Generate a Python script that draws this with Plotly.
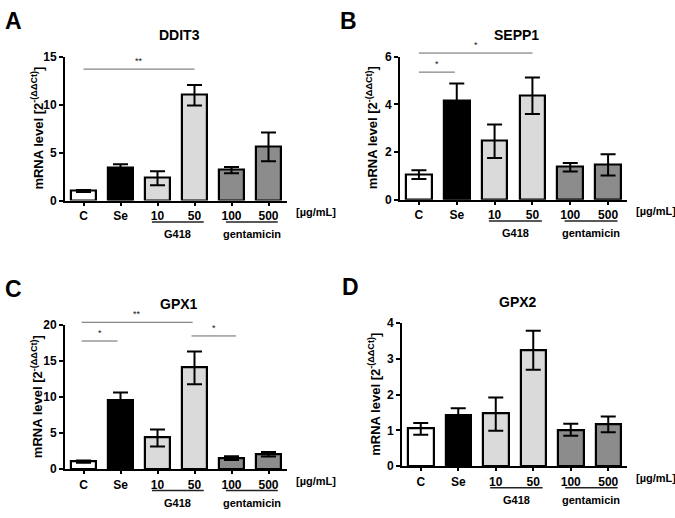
import plotly.graph_objects as go

W, H = 675, 518
FONT = "Arial, Liberation Sans, Helvetica, sans-serif"

categories = ["C", "Se", "10", "50", "100", "500"]
bar_colors = ["#ffffff", "#000000", "#dadada", "#dadada", "#8c8c8c", "#8c8c8c"]
groups = ["G418", "gentamicin"]
group_members = [[2, 3], [4, 5]]
unit_label = "[µg/mL]"
ytitle = "mRNA level [2<sup>-(ΔΔCt)</sup>]"

# Panel A - DDIT3
ddit3_mean = [1.0, 3.45, 2.35, 11.0, 3.2, 5.6]
ddit3_plus = [0.1, 0.35, 0.7, 1.05, 0.3, 1.5]
ddit3_minus = [0.1, 0.35, 0.75, 1.1, 0.35, 1.5]
ddit3_sig = [(0, 3, 13.7, "**")]

# Panel B - SEPP1
sepp1_mean = [1.05, 4.15, 2.47, 4.37, 1.37, 1.46]
sepp1_plus = [0.18, 0.72, 0.68, 0.75, 0.17, 0.44]
sepp1_minus = [0.18, 0.72, 0.72, 0.78, 0.19, 0.45]
sepp1_sig = [(0, 3, 6.15, "*"), (0, 0.95, 5.35, "*")]

# Panel C - GPX1
gpx1_mean = [1.05, 9.55, 4.4, 14.15, 1.53, 2.07]
gpx1_plus = [0.15, 1.1, 1.1, 2.2, 0.25, 0.32]
gpx1_minus = [0.15, 1.1, 1.25, 2.35, 0.27, 0.32]
gpx1_sig = [(-0.05, 2.95, 20.4, "**"), (-0.05, 0.92, 17.8, "*"), (2.92, 4.12, 18.5, "*")]

# Panel D - GPX2
gpx2_mean = [1.05, 1.42, 1.47, 3.25, 1.02, 1.17]
gpx2_plus = [0.16, 0.2, 0.45, 0.54, 0.17, 0.22]
gpx2_minus = [0.17, 0.2, 0.48, 0.55, 0.17, 0.22]
gpx2_sig = []

panels = [
    dict(letter="A", title="DDIT3", mean=ddit3_mean, plus=ddit3_plus, minus=ddit3_minus,
         ymax=15, dtick=5, sig=ddit3_sig, box=(65, 287, 51, 199)),
    dict(letter="B", title="SEPP1", mean=sepp1_mean, plus=sepp1_plus, minus=sepp1_minus,
         ymax=6, dtick=2, sig=sepp1_sig, box=(400, 627, 51, 198)),
    dict(letter="C", title="GPX1", mean=gpx1_mean, plus=gpx1_plus, minus=gpx1_minus,
         ymax=20, dtick=5, sig=gpx1_sig, box=(65, 287, 327, 475)),
    dict(letter="D", title="GPX2", mean=gpx2_mean, plus=gpx2_plus, minus=gpx2_minus,
         ymax=4, dtick=1, sig=gpx2_sig, box=(402, 627, 325, 472)),
]

fig = go.Figure()
shapes = []
annotations = []
layout_axes = {}


def px_x(p):
    return p / W


def px_y(p):
    return 1 - p / H


xs = list(range(len(categories)))

for i, p in enumerate(panels):
    n = "" if i == 0 else str(i + 1)
    xa, ya = "x" + n, "y" + n
    x0, x1, y0, y1 = p["box"]
    ph = y1 - y0
    fig.add_trace(go.Bar(
        x=xs, y=p["mean"], width=0.68, xaxis=xa, yaxis=ya,
        marker=dict(color=bar_colors, line=dict(color="black", width=2.2)),
        error_y=dict(type="data", symmetric=False, array=p["plus"], arrayminus=p["minus"],
                     color="black", thickness=2, width=7.5),
        showlegend=False, hoverinfo="skip",
    ))
    layout_axes["xaxis" + n] = dict(
        domain=[px_x(x0), px_x(x1)], range=[-0.5, 5.5], anchor=ya,
        tickvals=xs, ticktext=categories, showline=True, linecolor="black", linewidth=2,
        ticks="outside", ticklen=3, tickwidth=1.5, tickcolor="black", showgrid=False,
        zeroline=False, tickfont=dict(family=FONT, size=12, color="black", weight="bold"),
        fixedrange=True,
    )
    layout_axes["yaxis" + n] = dict(
        domain=[px_y(y1), px_y(y0)], range=[0, p["ymax"]], anchor=xa, dtick=p["dtick"],
        showline=True, linecolor="black", linewidth=2, ticks="outside", ticklen=4,
        tickwidth=2, tickcolor="black", showgrid=False, zeroline=False,
        tickfont=dict(family=FONT, size=12, color="black", weight="bold"), fixedrange=True,
    )
    # panel letter
    annotations.append(dict(text="<b>%s</b>" % p["letter"], xref="paper", yref="paper",
                            x=px_x(x0 - 62), y=px_y(y0 - 37), xanchor="left", yanchor="middle",
                            showarrow=False, font=dict(family=FONT, size=23, color="black")))
    # title
    annotations.append(dict(text="<b>%s</b>" % p["title"], xref="paper", yref="paper",
                            x=px_x((x0 + x1) / 2 + 3), y=px_y(y0 - 22), xanchor="center",
                            yanchor="middle", showarrow=False,
                            font=dict(family=FONT, size=14, color="black")))
    # y title
    annotations.append(dict(text="<b>%s</b>" % ytitle, xref="paper", yref=ya + " domain",
                            x=px_x(x0 - 28), y=0.5, textangle=-90, xanchor="center",
                            yanchor="middle", showarrow=False,
                            font=dict(family=FONT, size=13, color="black")))
    # unit label
    annotations.append(dict(text="<b>%s</b>" % unit_label, xref="paper", yref=ya + " domain",
                            x=px_x(x1 + 7), y=-12 / ph, xanchor="left", yanchor="middle",
                            showarrow=False, font=dict(family=FONT, size=11, color="black")))
    # groups
    for g, mem in zip(groups, group_members):
        c = (mem[0] + mem[-1]) / 2 + 0.05
        shapes.append(dict(type="line", xref=xa, yref=ya + " domain", x0=c - 0.7, x1=c + 0.7,
                           y0=-22 / ph, y1=-22 / ph, line=dict(color="#222", width=1.5)))
        annotations.append(dict(text="<b>%s</b>" % g, xref=xa, yref=ya + " domain", x=c,
                                y=-34.5 / ph, xanchor="center", yanchor="middle", showarrow=False,
                                font=dict(family=FONT, size=11, color="black")))
    # significance
    for (sx0, sx1, sy, lab) in p["sig"]:
        yd = sy / p["ymax"]
        shapes.append(dict(type="line", xref=xa, yref=ya + " domain", x0=sx0, x1=sx1,
                           y0=yd, y1=yd, line=dict(color="#666", width=1)))
        annotations.append(dict(text=lab, xref=xa, yref=ya + " domain", x=(sx0 + sx1) / 2,
                                y=yd + 1 / ph, xanchor="center", yanchor="bottom", showarrow=False,
                                font=dict(family=FONT, size=9, color="#111")))

fig.update_layout(
    width=W, height=H, margin=dict(l=0, r=0, t=0, b=0),
    paper_bgcolor="white", plot_bgcolor="white", bargap=0,
    shapes=shapes, annotations=annotations, **layout_axes,
)

fig.write_html("out.html", config={"displayModeBar": False},
               post_script="document.body.style.margin='0px';")
